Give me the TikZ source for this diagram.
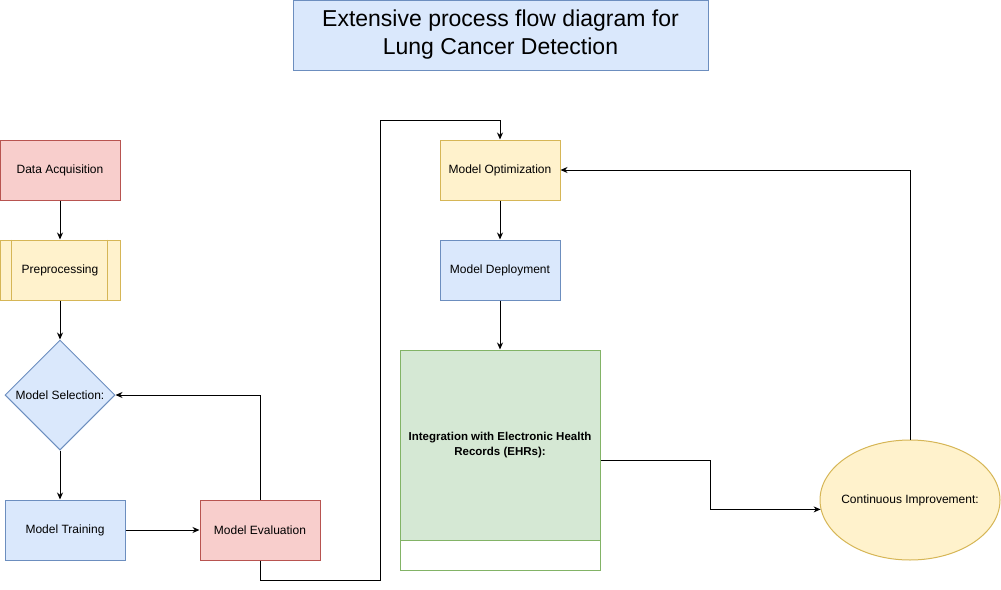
\documentclass[tikz,border=0pt]{standalone}
\usepackage{fontspec}
\setmainfont{Liberation Sans}
\usetikzlibrary{arrows.meta,shapes.geometric}
\definecolor{bluefill}{HTML}{DAE8FC}
\definecolor{blueline}{HTML}{6C8EBF}
\definecolor{redfill}{HTML}{F8CECC}
\definecolor{redline}{HTML}{B85450}
\definecolor{yelfill}{HTML}{FFF2CC}
\definecolor{yelline}{HTML}{D6B656}
\definecolor{grnfill}{HTML}{D5E8D4}
\definecolor{grnline}{HTML}{82B366}
\begin{document}
\begin{tikzpicture}[x=1pt,y=-1pt,line width=1pt,
		box/.style={rectangle,minimum width=120pt,minimum height=60pt,inner sep=0pt,font=\fontsize{12}{14.4}\selectfont},
		bluebox/.style={box,fill=bluefill,draw=blueline},
		redbox/.style={box,fill=redfill,draw=redline},
		yelbox/.style={box,fill=yelfill,draw=yelline},
		arr/.style={-{Stealth[length=7pt,width=6pt]},black}]
		\useasboundingbox (0,0) rectangle (1001,589);
		\node[bluebox,minimum width=415pt,minimum height=70pt,align=center,font=\fontsize{23}{28}\selectfont] (title) at (500.5,35) {Extensive process flow diagram for\\Lung Cancer Detection};
		
		\node[redbox] (acq) at (60,170) {Data Acquisition};
		\node[yelbox] (pre) at (60,270) {Preprocessing};
		\foreach \d in {12,108}{
			\draw[yelline] ([xshift=\d pt]pre.north west) -- ([xshift=\d pt]pre.south west);
		}
		\node[diamond,aspect=1,minimum size=110pt,inner sep=0pt,fill=bluefill,draw=blueline] (sel) at (60,395) {};
		\node[font=\fontsize{12}{14.4}\selectfont] at (sel) {Model Selection:};
		\node[bluebox] (train) at (65,530) {Model Training};
		\node[redbox] (eval) at (260,530) {Model Evaluation};
		
		\node[yelbox] (opt) at (500,170) {Model Optimization};
		\node[bluebox] (dep) at (500,270) {Model Deployment};
		\node[rectangle,minimum width=200pt,minimum height=220pt,inner sep=0pt,fill=white,draw=grnline] (ehr) at (500,460) {};
		\node[rectangle,minimum width=200pt,minimum height=190pt,inner sep=0pt,fill=grnfill,draw=grnline,font=\fontsize{11.5}{14.4}\selectfont\bfseries] (ehrtxt) at (500,445) {\begin{tabular}{@{}c@{}}Integration with Electronic Health\\Records (EHRs):\end{tabular}};
		\node[ellipse,minimum width=180pt,minimum height=120pt,inner sep=0pt,fill=yelfill,draw=yelline] (ci) at (910,500) {};
		\node[font=\fontsize{12}{14.4}\selectfont] at (ci) {Continuous Improvement:};
		
		\coordinate (bend) at (380,120);
		\draw[arr] (acq) -- (pre);
		\draw[arr] (pre) -- (sel);
		\draw[arr] (sel) -- (sel|-train.north);
		\draw[arr] (train) -- (eval);
		\draw[arr] (eval.north) |- (sel.east);
		\draw[arr] (eval.south) -- ++(0,20) -| (bend) -| (opt.north);
		\draw[arr] (opt) -- (dep);
		\draw[arr] (dep) -- (ehr);
		\draw[arr] (ehr.east) -- ++(110,0) |- (ci.186);
		\draw[arr] (ci.north) |- (opt.east);
		\end{tikzpicture}
\end{document}
